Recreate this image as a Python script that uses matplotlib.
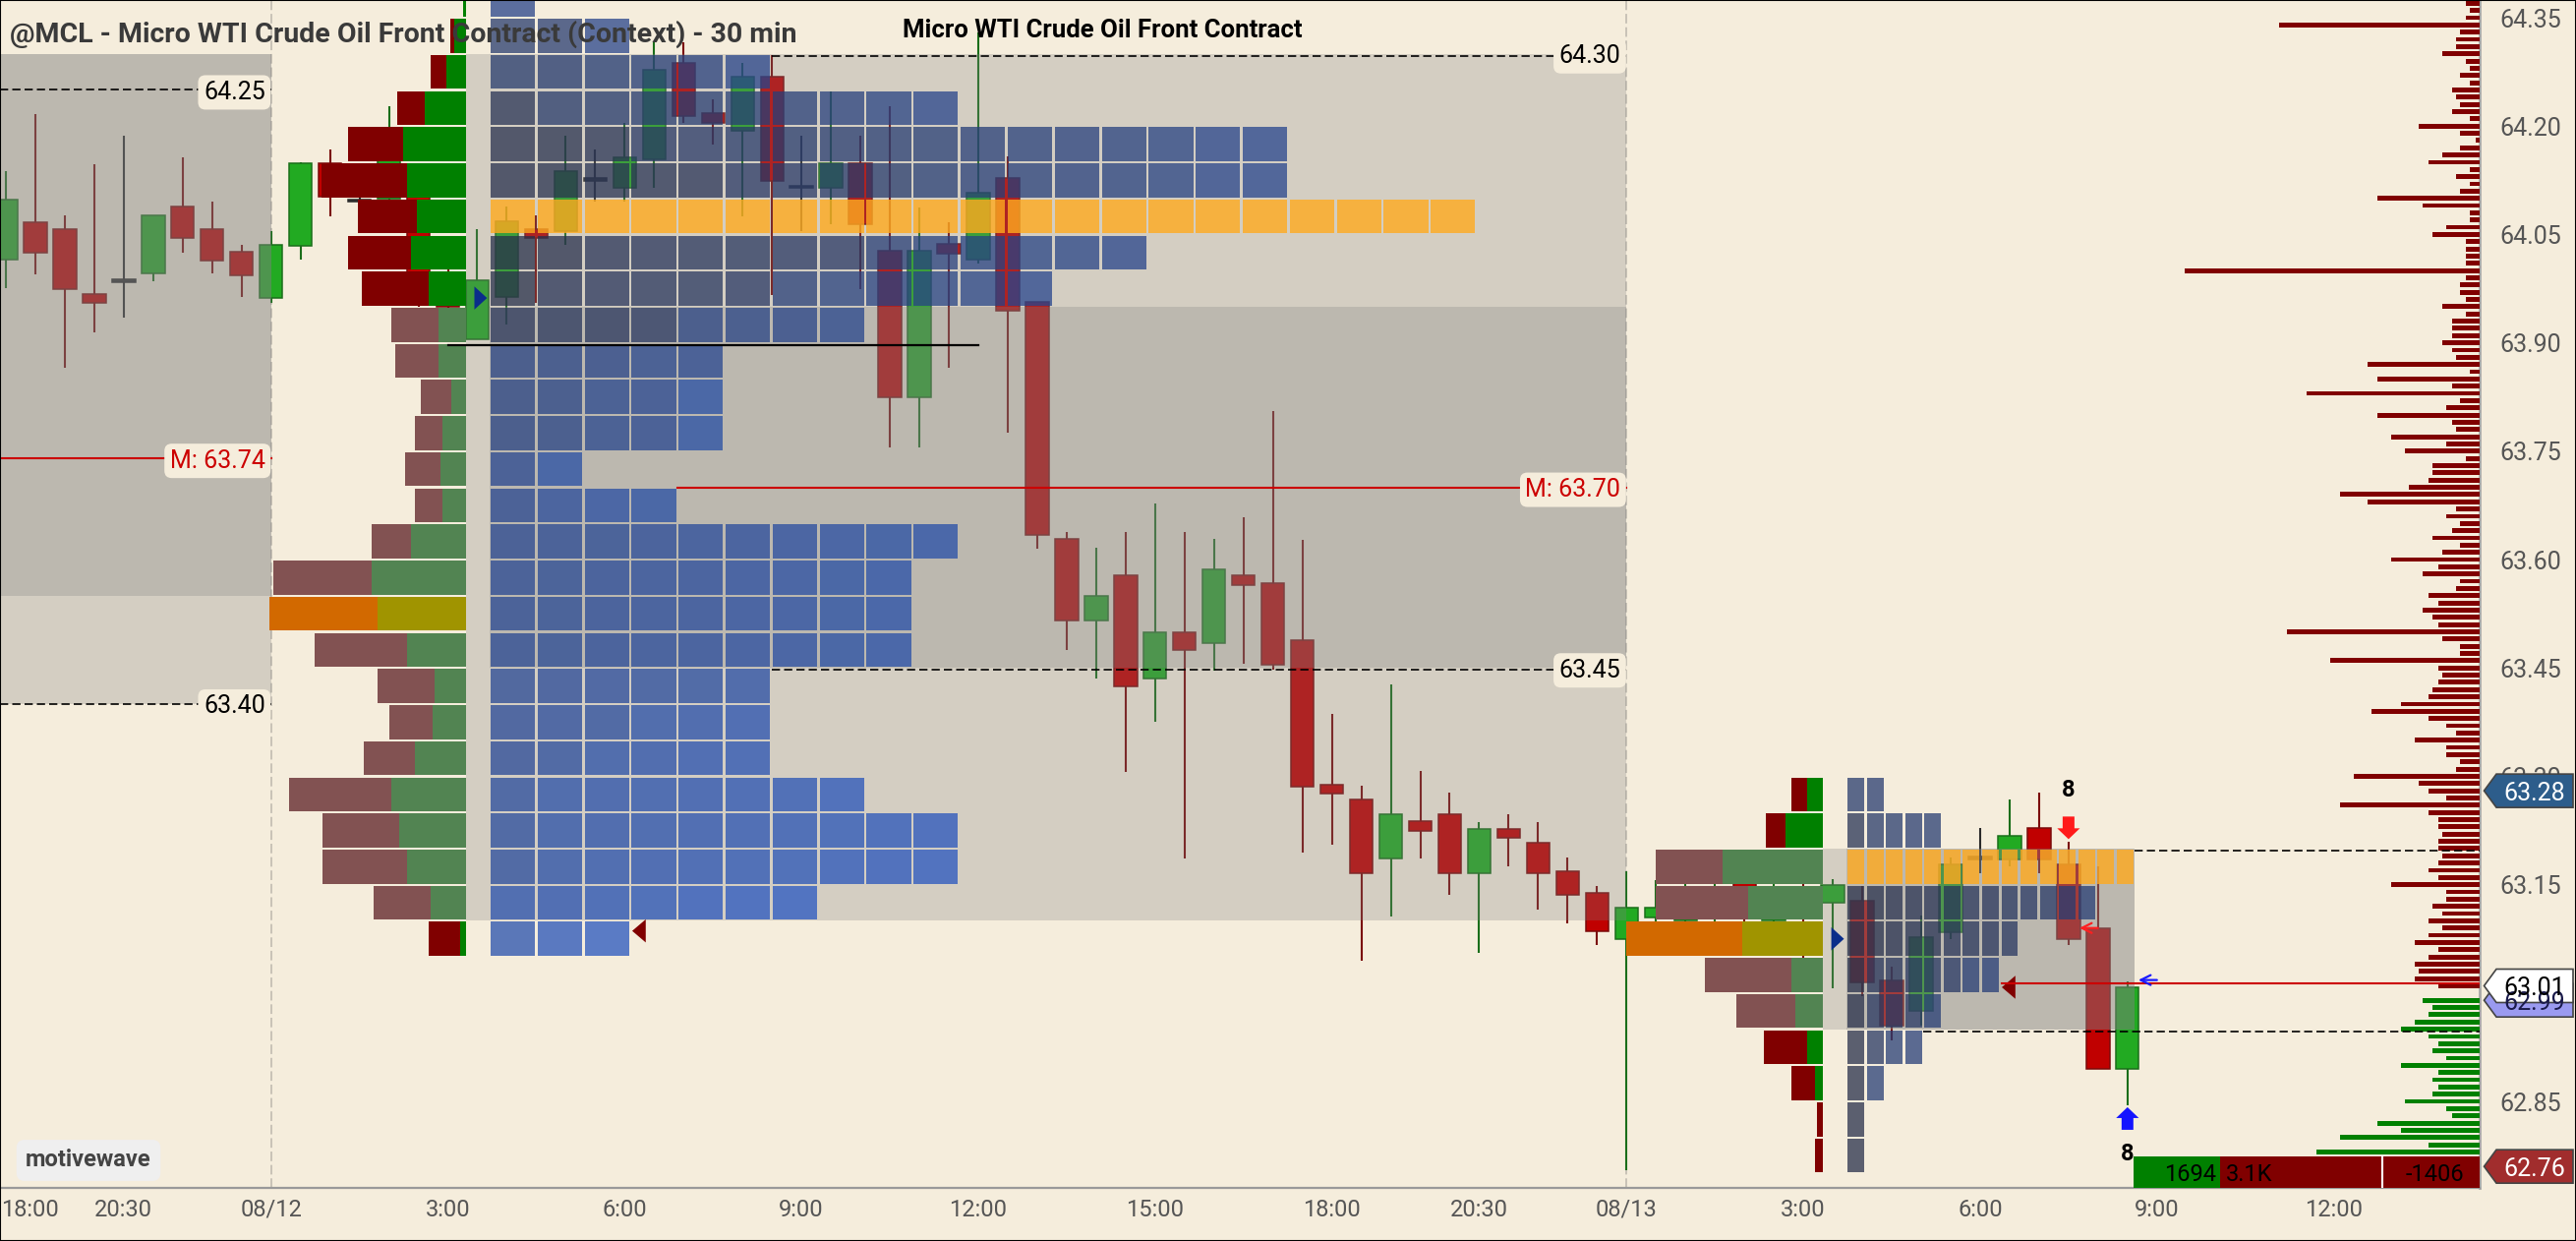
import matplotlib
matplotlib.use("Agg")
import matplotlib.pyplot as plt
import matplotlib.transforms as mtransforms
from matplotlib.patches import Rectangle, Polygon
import numpy as np

plt.rcParams['font.family'] = ['Roboto', 'DejaVu Sans']

# ---------------------------------------------------------------- data
bar_index = list(range(-9, 64))          # 30-min bars, 0 = first bar of 08/12 session
opens = [64.015, 64.067, 64.058, 63.968, 63.986, 63.996, 64.088, 64.057, 64.026,
         63.962, 64.034, 64.148, 64.097, 64.100, 64.120, 63.990, 63.905, 63.964, 64.058,
         64.054, 64.126, 64.114, 64.154, 64.288, 64.218, 64.194, 64.268, 64.116, 64.115,
         64.148, 64.027, 63.824, 64.037, 64.015, 64.128, 63.957, 63.628, 63.515, 63.578,
         63.435, 63.499, 63.484, 63.578, 63.568, 63.488, 63.288, 63.268, 63.186, 63.238,
         63.248, 63.166, 63.227, 63.208, 63.168, 63.139,
         63.075, 63.104, 63.100, 63.110, 63.170, 63.100, 63.130, 63.125, 63.128, 63.018,
         62.975, 63.084, 63.187, 63.185, 63.229, 63.178, 63.090, 62.895]
highs = [64.137, 64.217, 64.077, 64.147, 64.187, 64.077, 64.157, 64.096, 64.035,
         64.055, 64.150, 64.167, 64.130, 64.228, 64.130, 64.020, 64.057, 64.088, 64.077,
         64.187, 64.167, 64.204, 64.316, 64.316, 64.237, 64.287, 64.298, 64.187, 64.248,
         64.187, 64.227, 64.087, 64.067, 64.330, 64.158, 63.957, 63.638, 63.616, 63.638,
         63.678, 63.638, 63.628, 63.658, 63.806, 63.627, 63.387, 63.287, 63.427, 63.307,
         63.277, 63.237, 63.248, 63.237, 63.187, 63.148,
         63.168, 63.156, 63.170, 63.180, 63.190, 63.160, 63.160, 63.158, 63.148, 63.037,
         63.107, 63.187, 63.228, 63.268, 63.278, 63.209, 63.176, 63.016]
lows = [63.976, 63.995, 63.865, 63.915, 63.935, 63.985, 64.025, 63.996, 63.964,
        63.955, 64.015, 64.075, 64.070, 64.090, 63.950, 63.905, 63.905, 63.925, 63.955,
        64.035, 64.095, 64.095, 64.115, 64.204, 64.175, 64.075, 63.966, 64.055, 64.064,
        63.975, 63.755, 63.755, 63.865, 64.010, 63.776, 63.615, 63.475, 63.436, 63.306,
        63.376, 63.186, 63.446, 63.456, 63.447, 63.195, 63.205, 63.045, 63.106, 63.186,
        63.136, 63.056, 63.176, 63.115, 63.096, 63.066,
        62.755, 63.080, 63.070, 63.080, 63.080, 63.060, 63.030, 63.006, 62.996, 62.935,
        62.955, 63.075, 63.166, 63.176, 63.166, 63.066, 62.895, 62.845]
closes = [64.098, 64.025, 63.974, 63.955, 63.986, 64.077, 64.045, 64.014, 63.993,
          64.036, 64.148, 64.102, 64.097, 64.170, 63.980, 63.950, 63.987, 64.068, 64.045,
          64.138, 64.126, 64.157, 64.278, 64.214, 64.204, 64.268, 64.124, 64.116, 64.148,
          64.064, 63.824, 64.027, 64.024, 64.108, 63.945, 63.634, 63.515, 63.549, 63.424,
          63.499, 63.475, 63.587, 63.564, 63.455, 63.285, 63.276, 63.166, 63.248, 63.225,
          63.166, 63.227, 63.215, 63.166, 63.136, 63.086,
          63.118, 63.118, 63.130, 63.140, 63.120, 63.130, 63.120, 63.149, 63.015, 62.955,
          63.078, 63.178, 63.187, 63.218, 63.185, 63.075, 62.895, 63.008]

time_tick_pos = [-8.2, -5, 0, 6, 12, 18, 24, 30, 36, 41, 46, 52, 58, 64, 70]
time_tick_labels = ['18:00', '20:30', '08/12', '3:00', '6:00', '9:00', '12:00', '15:00',
                    '18:00', '20:30', '08/13', '3:00', '6:00', '9:00', '12:00']
price_ticks = [64.35, 64.20, 64.05, 63.90, 63.75, 63.60, 63.45, 63.30, 63.15, 63.00, 62.85]

# session 08/12 : TPO rows (row low price, TPO count) and volume profile (sell, buy)
s1_row_low = [64.35, 64.30, 64.25, 64.20, 64.15, 64.10, 64.05, 64.00, 63.95, 63.90, 63.85,
              63.80, 63.75, 63.70, 63.65, 63.60, 63.55, 63.50, 63.45, 63.40, 63.35, 63.30,
              63.25, 63.20, 63.15, 63.10, 63.05]
s1_tpo_count = [1, 3, 6, 10, 17, 17, 21, 14, 12, 8, 5, 5, 5, 2, 4, 10, 9, 9, 9, 6, 6, 6, 8, 10, 10, 7, 3]
s1_sell = [0, 4, 16, 28, 56, 87, 60, 64, 68, 48, 44, 31, 28, 36, 28, 40, 100, 110, 94, 58, 44, 52,
           104, 78, 86, 58, 32]
s1_buy = [3, 12, 20, 42, 64, 60, 50, 56, 38, 28, 28, 15, 24, 26, 24, 56, 96, 90, 60, 32, 34, 52,
          76, 68, 60, 36, 6]
s1_volume_va = (63.10, 63.95)
s1_levels = [(64.30, 'va'), (63.70, 'mid'), (63.45, 'va')]

# session 08/13
s2_row_low = [63.25, 63.20, 63.15, 63.10, 63.05, 63.00, 62.95, 62.90, 62.85, 62.80, 62.75]
s2_tpo_count = [2, 5, 15, 13, 9, 8, 5, 4, 2, 1, 1]
s2_sell = [16, 20, 68, 94, 118, 88, 60, 44, 24, 6, 8]
s2_buy = [16, 38, 102, 76, 82, 32, 28, 16, 8, 0, 0]
s2_volume_va = (62.95, 63.20)
s2_levels = [(63.20, 'va'), (62.95, 'va')]

# previous session (context) levels
prev_levels = [(64.25, 'va'), (63.74, 'mid'), (63.40, 'va')]

# value-area shading: (union box, overlap box) per session
prev_va_union, prev_va_overlap = (63.40, 64.30), (63.55, 64.30)
s1_va_union, s1_va_overlap = (63.10, 64.30), (63.45, 63.95)
s2_va_union, s2_va_overlap = (62.95, 63.20), (62.95, 63.20)

ib_low_price = 63.897
ib_low_bars = (6, 24)

# volume at price (right side), one bar per 0.01 tick
vap_top = 64.38
vap_volume = [66, 14, 10, 14, 204, 20, 24, 24, 38, 14, 10, 20, 10, 28, 24, 20, 28, 10, 62, 20,
              4, 20, 38, 52, 10, 24, 10, 20, 104, 58, 10, 10, 34, 48, 14, 14, 14, 14, 300, 14,
              20, 20, 14, 38, 14, 28, 28, 28, 38, 28, 24, 114, 10, 104, 28, 176, 20, 34,
              104, 28, 24, 90, 34, 76, 14, 48, 48, 52, 72, 142, 114, 24, 34, 20, 28, 48, 20, 38,
              90, 42, 58, 20, 24, 52, 42, 58, 48, 42, 196, 38, 20, 20, 152, 42, 38, 42, 48, 52,
              80, 110, 52, 34, 24, 66, 34, 34, 20, 24, 128, 62, 52, 34, 142, 52, 42,
              42, 38, 42, 42, 38, 42, 52, 42, 90, 34, 34, 48, 38, 52, 38, 52, 66, 42, 52, 66,
              62, 66, 42, 0, 58, 48, 52, 66, 80, 52, 42, 48, 34, 80, 42, 48, 42, 48, 76, 34, 28,
              104, 80, 142, 52, 166]
vap_price = [round(vap_top - 0.01 * i, 2) for i in range(len(vap_volume))]
last_price_label = 63.01

price_tags = [(63.28, '#2d5d8b', 'white'), (62.99, '#9a9af0', '#1a1a4a'),
              (63.01, 'white', 'black'), (62.76, '#a12d2d', 'white')]

signal_bars = [61, 63]
signal_dirs = ['down', 'up']
signal_counts = [8, 8]
small_arrow_bars = [61, 63]
small_arrow_prices = [63.09, 63.018]
small_arrow_colors = ['#ff2020', '#1a1aff']

footer_buy = 1694
footer_sell = 3100

# ---------------------------------------------------------------- geometry
PX_BAR = 29.97
PX_PRICE = 734.7
T0_PX = 275.7
PLOT_R_PX = 2522.0
PLOT_B_PX = 1207.5
XMIN = (0 - T0_PX) / PX_BAR
XMAX = (PLOT_R_PX - T0_PX) / PX_BAR
YMAX = 64.35 + 18 / PX_PRICE
YMIN = 64.35 - (PLOT_B_PX - 18) / PX_PRICE
ROW = 0.05
GX = 1.3 / PX_BAR
GY = 1.1 / PX_PRICE
BODY_W = 0.78
PROFILE_W = 200 / PX_BAR

CREAM = '#f5eddc'
UP, DN, DOJI = '#22aa22', '#c00000', '#333333'
UP_E, DN_E = '#1a6e1a', '#7a0a0a'

fig = plt.figure(figsize=(26.2, 12.62), dpi=100, facecolor=CREAM)
ax = fig.add_axes([0, 1 - PLOT_B_PX / 1262, PLOT_R_PX / 2620, PLOT_B_PX / 1262])
ax.set_facecolor(CREAM)
ax.set_xlim(XMIN, XMAX)
ax.set_ylim(YMIN, YMAX)
blend = mtransforms.blended_transform_factory(ax.transAxes, ax.transData)


def fx(px):
    return px / PLOT_R_PX


# day dividers
ax.vlines([0, 46], YMIN, YMAX, colors='#c8c2b6', lw=1.4, linestyles=(0, (5, 2)), zorder=1)

# ---------------------------------------------------------------- candles
t = np.array(bar_index, float)
o, h, l, c = map(np.array, (opens, highs, lows, closes))
doji = np.abs(c - o) < 0.003
body_cols = [DOJI if d else (UP if cc > oo else DN) for d, oo, cc in zip(doji, o, c)]
edge_cols = ['#2a2a2a' if d else (UP_E if cc > oo else DN_E) for d, oo, cc in zip(doji, o, c)]
ax.vlines(t, l, h, colors=edge_cols, lw=1.5, zorder=2)
bh = np.where(doji, 0.0035, np.abs(c - o))
bb = np.where(doji, o - 0.00175, np.minimum(o, c))
ax.bar(t, bh, bottom=bb, width=BODY_W, color=body_cols, edgecolor=edge_cols, linewidth=1.1, zorder=3)

# ---------------------------------------------------------------- sessions
sessions = [
    dict(start=0, end=45, prof_edge=6.62, grid=7.41, sq=1.595, rows=s1_row_low, cnt=s1_tpo_count,
         sell=s1_sell, buy=s1_buy, vva=s1_volume_va, union=s1_va_union, overlap=s1_va_overlap,
         box_end=46.0, levels=s1_levels, extend=False, divider=46),
    dict(start=46, end=63, prof_edge=52.66, grid=53.46, sq=0.652, rows=s2_row_low, cnt=s2_tpo_count,
         sell=s2_sell, buy=s2_buy, vva=s2_volume_va, union=s2_va_union, overlap=s2_va_overlap,
         box_end=None, levels=s2_levels, extend=True, divider=None),
]


def gray_box(x0, x1, y0, y1):
    ax.add_patch(Rectangle((x0, y0), x1 - x0, y1 - y0, fc=(0.5, 0.5, 0.5, 0.28), ec='none', zorder=4))


gray_box(XMIN, 0, *prev_va_union)
gray_box(XMIN, 0, *prev_va_overlap)

EARLY = np.array([40, 48, 75]) / 255
LATE = np.array([38, 86, 193]) / 255


def tpo_periods(lo, count, s0, s1):
    hi = lo + ROW
    cand = []
    for i, tt in enumerate(bar_index):
        if s0 <= tt <= s1:
            d = max(0.0, lo - highs[i], lows[i] - hi)
            cand.append((d > 1e-9, d, tt))
    ov = sorted([q for q in cand if not q[0]], key=lambda q: q[2])
    rest = sorted([q for q in cand if q[0]], key=lambda q: q[1])
    return sorted(q[2] for q in (ov + rest)[:count])


for s in sessions:
    rows, cnt = s['rows'], s['cnt']
    poc_tpo = rows[int(np.argmax(cnt))]
    grid_end_poc = s['grid'] + max(cnt) * s['sq']
    box_end = s['box_end'] if s['box_end'] is not None else grid_end_poc
    gray_box(s['prof_edge'], box_end, *s['union'])
    gray_box(s['grid'], box_end, *s['overlap'])

    # TPO squares
    lefts, bottoms, cols = [], [], []
    for lo, n in zip(rows, cnt):
        per = tpo_periods(lo, n, s['start'], s['end'])
        for k in range(n):
            lefts.append(s['grid'] + k * s['sq'] + GX)
            bottoms.append(lo + GY)
            if abs(lo - poc_tpo) < 1e-6:
                cols.append((1.0, 0.667, 0.118, 0.8))
            else:
                f = (per[k] - s['start']) / 45.0
                rgb = EARLY + (LATE - EARLY) * min(max(f, 0), 1)
                cols.append((*rgb, 0.75))
    ax.bar(lefts, ROW - 2 * GY, width=s['sq'] - 2 * GX, bottom=bottoms, align='edge',
           color=cols, linewidth=0, zorder=6)

    # volume profile (sell left, buy right)
    sell = np.array(s['sell'], float)
    buy = np.array(s['buy'], float)
    scale = PROFILE_W / (sell + buy).max()
    poc_vol = rows[int(np.argmax(sell + buy))]
    for lo, sv, bv in zip(rows, sell, buy):
        in_va = lo >= s['vva'][0] - 1e-6 and lo + ROW <= s['vva'][1] + 1e-6
        if abs(lo - poc_vol) < 1e-6:
            cs, cb = '#d26900', '#a09400'
        elif in_va:
            cs, cb = '#825252', '#528452'
        else:
            cs, cb = '#800000', '#008000'
        e = s['prof_edge']
        ax.barh(lo + GY, bv * scale, left=e - bv * scale, height=ROW - 2 * GY, align='edge',
                color=cb, linewidth=0, zorder=6)
        ax.barh(lo + GY, sv * scale, left=e - (bv + sv) * scale, height=ROW - 2 * GY, align='edge',
                color=cs, linewidth=0, zorder=6)

    # session open (blue) and close (dark red) markers
    i0 = bar_index.index(s['start'])
    i1 = bar_index.index(s['end'])
    po, pc = opens[i0], closes[i1]
    th = 0.016
    ax.add_patch(Polygon([(s['grid'] - 0.51, po - th), (s['grid'] - 0.51, po + th), (s['grid'] - 0.08, po)],
                         closed=True, fc='#0a2d8a', ec='none', zorder=7))
    close_row = np.floor(pc / ROW + 1e-9) * ROW
    n_close = cnt[int(np.argmin([abs(r - close_row) for r in rows]))]
    tip = s['grid'] + n_close * s['sq'] + 0.06
    ax.add_patch(Polygon([(tip, pc), (tip + 0.46, pc + th), (tip + 0.46, pc - th)],
                         closed=True, fc='#800000', ec='none', zorder=7))
    if s['extend']:
        ax.plot([tip, XMAX], [pc + 0.006, pc + 0.006], color='#cc0000', lw=1.5, zorder=8)

    # value area / mid lines
    for lvl, kind in s['levels']:
        below = [n for r, n in zip(rows, cnt) if abs(r + ROW - lvl) < 1e-6]
        x_start = s['grid'] + (below[0] if below else 0) * s['sq']
        x_end = XMAX if s['extend'] else s['divider']
        if kind == 'mid':
            ax.plot([x_start, x_end], [lvl, lvl], color='#cc0000', lw=1.5, zorder=8)
        else:
            ax.plot([x_start, x_end], [lvl - 0.003, lvl - 0.003], color='black', lw=1.2,
                    dashes=(5, 2.5), zorder=8)
        if not s['extend']:
            txt = f'M: {lvl:.2f}' if kind == 'mid' else f'{lvl:.2f}'
            ax.text(s['divider'] - 0.2, lvl, txt, ha='right', va='center_baseline', fontsize=18,
                    color='#cc0000' if kind == 'mid' else 'black', zorder=12,
                    bbox=dict(boxstyle='round,pad=0.22,rounding_size=0.3', fc=CREAM, ec='none'))

# previous-session levels
for lvl, kind in prev_levels:
    if kind == 'mid':
        ax.plot([XMIN, 0], [lvl, lvl], color='#cc0000', lw=1.5, zorder=8)
    else:
        ax.plot([XMIN, 0], [lvl, lvl], color='black', lw=1.2, dashes=(5, 2.5), zorder=8)
    txt = f'M: {lvl:.2f}' if kind == 'mid' else f'{lvl:.2f}'
    ax.text(-0.2, lvl, txt, ha='right', va='center_baseline', fontsize=18,
            color='#cc0000' if kind == 'mid' else 'black', zorder=12,
            bbox=dict(boxstyle='round,pad=0.22,rounding_size=0.3', fc=CREAM, ec='none'))

# initial balance low line
ax.plot(list(ib_low_bars), [ib_low_price, ib_low_price], color='black', lw=1.6, zorder=8)

# ---------------------------------------------------------------- volume at price (right)
vv = np.array(vap_volume, float) / PX_BAR
vcol = ['#800000' if p >= last_price_label - 1e-6 else '#008000' for p in vap_price]
ax.barh(vap_price, vv, left=XMAX - vv, height=0.0066, color=vcol, linewidth=0, zorder=6)

# ---------------------------------------------------------------- signals
for b, d, n in zip(signal_bars, signal_dirs, signal_counts):
    i = bar_index.index(b)
    sh, hh, sl, hl = 0.2, 0.385, 0.0163, 0.015
    if d == 'down':
        tp = highs[i] + 0.004
        top = tp + sl + hl
        pts = [(b - sh, top), (b + sh, top), (b + sh, top - sl), (b + hh, top - sl), (b, tp),
               (b - hh, top - sl), (b - sh, top - sl)]
        col = '#ff1a1a'
        ax.text(b, top + 0.036, str(n), ha='center', va='center', fontsize=17, fontweight='bold',
                color='black', zorder=12)
    else:
        tp = lows[i] - 0.003
        base = tp - sl - hl
        pts = [(b, tp), (b + hh, tp - hl), (b + sh, tp - hl), (b + sh, base), (b - sh, base),
               (b - sh, tp - hl), (b - hh, tp - hl)]
        col = '#1414ff'
        ax.text(b, base - 0.034, str(n), ha='center', va='center', fontsize=17, fontweight='bold',
                color='black', zorder=12)
    ax.add_patch(Polygon(pts, closed=True, fc=col, ec='none', zorder=9))

for b, p, col in zip(small_arrow_bars, small_arrow_prices, small_arrow_colors):
    ax.annotate('', xy=(b + 0.37, p), xytext=(b + 1.0, p),
                arrowprops=dict(arrowstyle='->', color=col, lw=1.6, mutation_scale=18,
                                shrinkA=0, shrinkB=0), zorder=10)

# ---------------------------------------------------------------- axes styling
for sp in ('top', 'left'):
    ax.spines[sp].set_visible(False)
ax.spines['bottom'].set_color('#999999')
ax.spines['bottom'].set_linewidth(1.6)
ax.spines['right'].set_color('#a8a8a8')
ax.spines['right'].set_linewidth(2.0)
ax.set_xticks(time_tick_pos)
ax.set_xticklabels(time_tick_labels)
ax.yaxis.tick_right()
ax.set_yticks(price_ticks)
ax.set_yticklabels([f'{p:.2f}' for p in price_ticks])
ax.tick_params(axis='x', length=0, pad=8, labelsize=17, labelcolor='#555555')
ax.tick_params(axis='y', length=0, pad=15, labelsize=18, labelcolor='#555555')

# price tags on the right axis
for p, fc, tc in price_tags:
    hh = 17 / PX_PRICE
    pts = [(fx(2526.5), p), (fx(2539), p + hh), (fx(2617), p + hh), (fx(2617), p - hh), (fx(2539), p - hh)]
    ax.add_patch(Polygon(pts, closed=True, transform=blend, fc=fc, ec='#444444', lw=1.2,
                         clip_on=False, zorder=15))
    ax.text(fx(2578), p, f'{p:.2f}', transform=blend, ha='center', va='center_baseline', fontsize=18,
            color=tc, zorder=16, clip_on=False)

# footer summary bar
fy1 = (PLOT_B_PX - 1176) / PLOT_B_PX
ax.add_patch(Rectangle((fx(2170), 0), fx(2258) - fx(2170), fy1, transform=ax.transAxes,
                       fc='#008000', ec='none', zorder=13))
ax.add_patch(Rectangle((fx(2258), 0), fx(PLOT_R_PX) - fx(2258), fy1, transform=ax.transAxes,
                       fc='#800000', ec='none', zorder=13))
ax.plot([fx(2423), fx(2423)], [0, fy1], transform=ax.transAxes, color='white', lw=1.5, zorder=14)
ax.text(fx(2254), fy1 / 2, f'{footer_buy}', transform=ax.transAxes, ha='right', va='center_baseline',
        fontsize=17, color='black', zorder=14)
ax.text(fx(2264), fy1 / 2, f'{footer_sell / 1000:.1f}K', transform=ax.transAxes, ha='left',
        va='center_baseline', fontsize=17, color='black', zorder=14)
ax.text(fx(2506), fy1 / 2, f'{footer_buy - footer_sell}', transform=ax.transAxes, ha='right',
        va='center_baseline', fontsize=17, color='black', zorder=14)

# titles and watermark
ax.text(fx(10), 1 - 42.7 / PLOT_B_PX, '@MCL - Micro WTI Crude Oil Front Contract (Context) - 30 min',
        transform=ax.transAxes, ha='left', va='baseline', fontsize=20.5, fontweight='bold',
        color='#3a3a3a', zorder=20)
ax.text(fx(918), 1 - 38.3 / PLOT_B_PX, 'Micro WTI Crude Oil Front Contract', transform=ax.transAxes,
        ha='left', va='baseline', fontsize=18.5, fontweight='bold', color='black', zorder=20)
ax.text(fx(90), 1 - 1180 / PLOT_B_PX, 'motivewave', transform=ax.transAxes, ha='center', va='center',
        fontsize=17, fontweight='bold', color='#444444', zorder=20,
        bbox=dict(boxstyle='round,pad=0.4,rounding_size=0.35', fc='#efefef', ec='none'))

fig.patches.append(Rectangle((0, 0), 1, 1, transform=fig.transFigure, fill=False, ec='black', lw=1.5))

fig.savefig('out.png', dpi=100, facecolor=CREAM)
